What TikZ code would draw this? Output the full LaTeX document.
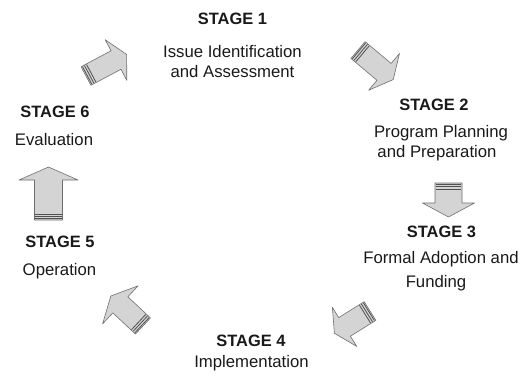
\documentclass[tikz,border=0pt]{standalone}
\usepackage{fontspec}
\setmainfont{Liberation Sans}
\definecolor{arrfill}{RGB}{212,212,212}
\definecolor{arredge}{RGB}{110,110,110}
\definecolor{arrstripe}{RGB}{80,80,80}
\definecolor{txt}{RGB}{25,25,25}
\tikzset{
  title/.style={anchor=base,inner sep=0pt,font=\fontsize{16.5}{19}\selectfont\bfseries,text=txt},
  desc/.style={anchor=base,inner sep=0pt,font=\fontsize{16.8}{19}\selectfont,text=txt},
  arrowbody/.style={fill=arrfill,draw=arredge,line width=0.6pt,line join=round},
  arrowstripe/.style={draw=arrstripe,line width=0.8pt}
}
% #1,#2 tail middle; #3 angle; #4 length; #5 shaft width; #6 head width; #7 head length
\newcommand\stagearrow[7]{%
  \begin{scope}[shift={(#1,#2)},rotate=#3]
    \path[arrowbody] (0,{#5/2}) -- ({#4-#7},{#5/2}) -- ({#4-#7},{#6/2}) -- (#4,0)
      -- ({#4-#7},{-#6/2}) -- ({#4-#7},{-#5/2}) -- (0,{-#5/2}) -- cycle;
    \foreach \s in {1.3,3.6,5.9}
      \draw[arrowstripe] (\s,{#5/2-0.6}) -- (\s,{-#5/2+0.6});
  \end{scope}}
\begin{document}
\begin{tikzpicture}[x=1bp,y=-1bp]
\useasboundingbox (0,0) rectangle (523,380);

% stage texts
\node[title] (t1) at (232.5,24) {STAGE 1};
\node[desc] (d1a) at (232.5,57) {Issue Identification};
\node[desc] (d1b) at (232.5,77) {and Assessment};

\node[title] (t2) at (434,110) {STAGE 2};
\node[desc] (d2a) at (441,137) {Program Planning};
\node[desc] (d2b) at (437,157) {and Preparation};

\node[title] (t3) at (441.5,237) {STAGE 3};
\node[desc] (d3a) at (441,263) {Formal Adoption and};
\node[desc] (d3b) at (436,287) {Funding};

\node[title] (t4) at (251,346) {STAGE 4};
\node[desc] (d4a) at (251.5,367) {Implementation};

\node[title] (t5) at (60,247) {STAGE 5};
\node[desc] (d5a) at (59.5,275) {Operation};

\node[title] (t6) at (55,117) {STAGE 6};
\node[desc] (d6a) at (54,145) {Evaluation};

% block arrows
\stagearrow{86}{76}{28}{46}{21}{46}{12}
\stagearrow{358}{50}{-40}{46}{22}{48}{12}
\stagearrow{448.5}{183}{-90}{34}{27}{52}{14}
\stagearrow{370}{311}{212}{42}{22}{46}{12}
\stagearrow{143}{326}{137}{44}{22}{52}{13}
\stagearrow{48.5}{220}{90}{53}{28}{59}{13}
\end{tikzpicture}
\end{document}
